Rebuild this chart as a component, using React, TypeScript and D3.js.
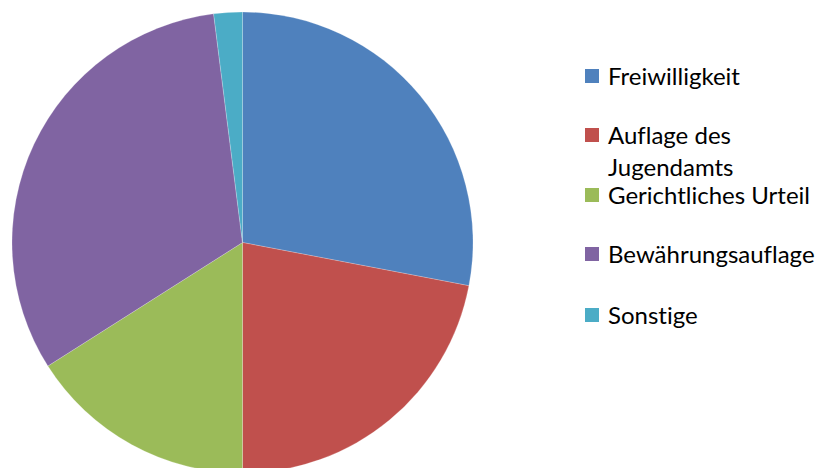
import React from "react";
import * as d3 from "d3";

const categories = ["Freiwilligkeit", "Auflage des Jugendamts", "Gerichtliches Urteil", "Bewährungsauflage", "Sonstige"];
const values = [28, 22, 16, 32, 2];
const colors = ["#4F81BD", "#C0504D", "#9BBB59", "#8064A2", "#4BACC6"];
const legendLines = [["Freiwilligkeit"], ["Auflage des", "Jugendamts"], ["Gerichtliches Urteil"], ["Bewährungsauflage"], ["Sonstige"]];
const legendBaselines = [85, 144, 204, 263, 324];

export default function App() {
  const W = 826, H = 468;
  const cx = 242.5, cy = 242.5, r = 230.5;
  const pie = d3.pie<number>().sort(null).startAngle(0).endAngle(2 * Math.PI);
  const arcs = pie(values);
  const arc = d3.arc<d3.PieArcDatum<number>>().innerRadius(0).outerRadius(r);
  return (
    <svg width={W} height={H} style={{ position: "absolute", left: 0, top: 0, background: "#fff" }}>
      <g transform={`translate(${cx},${cy})`}>
        {arcs.map((a, i) => (
          <path key={categories[i]} d={arc(a) || ""} fill={colors[i]} stroke="#ffffff" strokeOpacity={0.35} strokeWidth={0.6} />
        ))}
      </g>
      <g fontFamily="Lato, 'Open Sans', sans-serif" fontSize={24} fill="#000" style={{ fontVariantLigatures: "none" }}>
        {categories.map((c, i) => (
          <g key={c}>
            <rect x={585} y={legendBaselines[i] - 16} width={14} height={14} fill={colors[i]} />
            {legendLines[i].map((l, j) => (
              <text key={j} x={608} y={legendBaselines[i] + j * 32}>{l}</text>
            ))}
          </g>
        ))}
      </g>
    </svg>
  );
}
